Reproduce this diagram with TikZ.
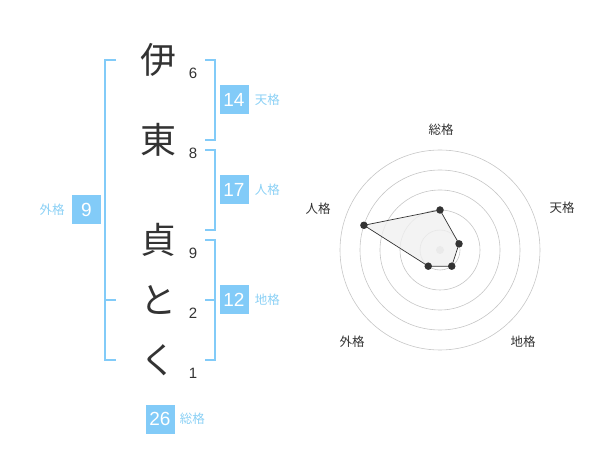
\documentclass[tikz,border=0pt]{standalone}
\usepackage{fontspec}
\setmainfont{Liberation Sans}
\newfontfamily\jp{Noto Sans CJK JP}
\usepackage{xcolor}
\usetikzlibrary{positioning,calc}
\definecolor{kakublue}{HTML}{82CBF8}
\definecolor{kakutext}{HTML}{8AD0F5}
\definecolor{ink}{HTML}{333333}

\begin{document}
\begin{tikzpicture}[x=1pt, y=-1pt,
    kanji/.style={font=\jp\fontsize{36}{36}\selectfont, text=ink, inner sep=0pt},
    stroke/.style={font=\fontsize{15}{15}\selectfont, text=ink, inner sep=0pt},
    valbox/.style={fill=kakublue, text=white, minimum width=29pt, minimum height=29pt, inner sep=0pt, font=\fontsize{19}{19}\selectfont},
    kaku/.style={font=\jp\fontsize{12.5}{12.5}\selectfont, text=kakutext, inner sep=0pt},
    bracket/.style={draw=kakublue, line width=1.8pt},
    ring/.style={draw=gray!45, line width=0.6pt},
    axis/.style={font=\jp\fontsize{12.5}{12.5}\selectfont, text=ink, inner sep=0pt},
    dot/.style={circle, fill=ink, inner sep=0pt, minimum size=7.5pt}
]
    \useasboundingbox (0,0) rectangle (600,470);

    % Name
    \foreach \name/\ch/\y/\n in {c1/伊/60/6, c2/東/140/8, c3/貞/240/9, c4/と/300/2, c5/く/360/1} {
        \node [kanji] (\name) at (158,\y) {\ch};
        \node [stroke] (\name n) at (193,\y+13) {\n};
    }

    % Brackets right
    \draw [bracket] (205,60) -- (215,60) -- (215,140) -- (205,140);
    \draw [bracket] (205,150) -- (215,150) -- (215,230) -- (205,230);
    \draw [bracket] (205,240) -- (215,240) -- (215,360) -- (205,360);
    \draw [bracket] (205,300) -- (215,300);

    % Bracket left
    \draw [bracket] (116,60) -- (105,60) -- (105,360) -- (116,360);
    \draw [bracket] (105,300) -- (116,300);

    % Values
    \foreach \name/\v/\y/\t in {ten/14/100/天格, jin/17/190/人格, chi/12/300/地格} {
        \node [valbox] (\name) at (234,\y) {\v};
        \node [kaku, right=6pt of \name] (\name l) {\t};
    }
    \node [valbox] (gai) at (86.5,210) {9};
    \node [kaku, left=7pt of gai] (gai l) {外格};
    \node [valbox] (sou) at (160,419) {26};
    \node [kaku, right=5pt of sou] (sou l) {総格};

    % Radar
    \coordinate (o) at (440,250);
    \foreach \r in {20,40,60,80,100}
        \draw [ring] (o) circle (\r pt);
    \fill [gray!35] (o) circle (4pt);

    \foreach \name/\a/\r in {p1/90/40, p2/18/20, p3/-54/20, p4/-126/20, p5/162/80}
        \coordinate (\name) at ($(o)+(\a:\r pt)$);
    \draw [fill=gray!12, fill opacity=0.8, draw=ink, line width=0.7pt]
        (p1) -- (p2) -- (p3) -- (p4) -- (p5) -- cycle;
    \foreach \name in {p1,p2,p3,p4,p5}
        \node [dot] at (\name) {};

    \node [axis] (a1) at (441,130) {総格};
    \node [axis] (a2) at (562,208) {天格};
    \node [axis] (a3) at (523,342) {地格};
    \node [axis] (a4) at (352,342) {外格};
    \node [axis] (a5) at (318,209) {人格};
\end{tikzpicture}
\end{document}
